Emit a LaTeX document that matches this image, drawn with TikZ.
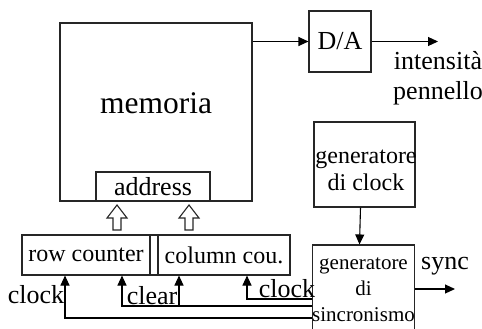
\documentclass[tikz,border=0pt]{standalone}
\usepackage{fontspec}
\setmainfont{Liberation Serif}
\usetikzlibrary{arrows.meta}

\tikzset{
	box/.style={draw=black!85, inner sep=0pt},
	big/.style={font=\fontsize{31.5}{34}\selectfont},
	lbl/.style={font=\fontsize{26}{30}\selectfont},
	cnt/.style={font=\fontsize{24}{27}\selectfont},
	sml/.style={font=\fontsize{21}{26}\selectfont}
}
\newcommand{\hollowup}[1]{\draw[draw=black!85] (#1-4,230) -- (#1-4,218) -- (#1-10,218) -- (#1,205) -- (#1+10,218) -- (#1+4,218) -- (#1+4,230) -- cycle;}

\begin{document}
\begin{tikzpicture}[x=1pt, y=-1pt, line width=1.1pt, >={Triangle[length=10pt,width=9pt]}]
	\useasboundingbox (0,0) rectangle (482,329);
	% memoria
	\node[box, minimum width=192pt, minimum height=178pt] (mem) at (156,112) {};
	\node[big] (memtxt) at (156,103) {memoria};
	\node[box, lbl, minimum width=114pt, minimum height=29pt] (addr) at (153,186.5) {address};
	% contatori
	\node[box, cnt, minimum width=128pt, minimum height=40pt] (rc) at (86,255) {row counter};
	\node[box, minimum width=8pt, minimum height=40pt] (sep) at (154,255) {};
	\node[box, cnt, minimum width=132pt, minimum height=40pt] (cc) at (224,255) {column cou.};
	\hollowup{117}
	\hollowup{189}
	% D/A
	\node[box, lbl, minimum width=62pt, minimum height=61pt] (da) at (340,41.5) {D/A};
	\coordinate (out) at (438,41.5);
	\node[lbl, align=center] (int) at (438,78) {intensità\\pennello};
	\draw[->] (da.west -| mem.east) -- (da.west);
	\draw[->] (da.east) -- (out);
	% generatori
	\node[box, minimum width=101pt, minimum height=85pt] (cg) at (364.5,164.5) {};
	\node[cnt, align=center] (cgtxt) at (366,170) {generatore\\di clock};
	\node[box, sml, align=center, minimum width=99pt, minimum height=90pt] (sc) at (363.5,290) {generatore\\di\\sincronismo};
	\draw[->] ([xshift=-4pt]cg.south) -- ([xshift=-4pt]sc.north);
	\coordinate (syncend) at (455,289);
	\node[lbl] (synctxt) at (445,266) {sync};
	\draw[->] (sc.east |- syncend) -- (syncend);
	% clock e clear
	\coordinate (k1) at (247,299);
	\coordinate (k2) at (122,306);
	\coordinate (k3) at (179,306);
	\coordinate (k4) at (65,318);
	\draw[->] (sc.west |- k1) -| (cc.south -| k1);
	\draw[->] (sc.west |- k2) -| (rc.south -| k2);
	\draw[->] (k3) -- (cc.south -| k3);
	\draw[->] (sc.west |- k4) -| (rc.south -| k4);
	\node[lbl] (clk1) at (36,295) {clock};
	\node[lbl] (clr) at (152,296) {clear};
	\node[lbl] (clk2) at (287,289) {clock};
\end{tikzpicture}
\end{document}
